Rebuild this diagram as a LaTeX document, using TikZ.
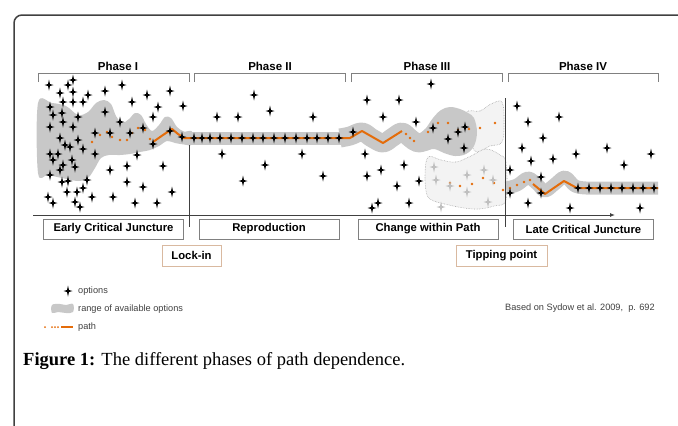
\documentclass[tikz,border=0pt]{standalone}
\usepackage{fontspec}
\setmainfont{Liberation Serif}
\setsansfont{Liberation Sans}
\usetikzlibrary{arrows.meta}
\definecolor{framegray}{RGB}{64,64,64}
\definecolor{linegray}{RGB}{128,128,128}
\definecolor{rangegray}{RGB}{200,200,200}
\definecolor{faintgray}{RGB}{243,243,243}
\definecolor{pathorange}{RGB}{228,108,10}
\definecolor{turntan}{RGB}{217,185,160}
\tikzset{
  optstar/.pic={\fill[pic actions] (0,-5.5) -- (1,-1) -- (4.5,0) -- (1,1) -- (0,5.5)
    -- (-1,1) -- (-4.5,0) -- (-1,-1) -- cycle;}
}

\begin{document}
\begin{tikzpicture}[x=1pt, y=-1pt,
    phase/.style={anchor=base, inner sep=0pt, font=\sffamily\bfseries\fontsize{11.5}{13}\selectfont},
    stage/.style={draw=linegray, line width=0.9pt, minimum width=140pt, minimum height=20pt,
        inner sep=0pt, font=\sffamily\bfseries\fontsize{11.3}{13}\selectfont},
    turn/.style={stage, draw=turntan},
    legendtext/.style={anchor=west, inner sep=0pt, text=framegray,
        font=\sffamily\fontsize{9.2}{11}\selectfont},
    bracket/.style={draw=linegray, line width=1pt},
    axisline/.style={draw=framegray, line width=0.9pt},
    rangetube/.style={draw=rangegray, line join=round},
    pathline/.style={draw=pathorange, line width=2pt, line join=round}]
    \useasboundingbox (0,0) rectangle (678,426);
    \draw[framegray, line width=1.5pt, rounded corners=8pt] (14,426) -- (14,15) -- (678,15);

    \node[phase] (ph1) at (118,70) {Phase I};
    \node[phase] (ph2) at (270,70) {Phase II};
    \node[phase] (ph3) at (427,70) {Phase III};
    \node[phase] (ph4) at (583,70) {Phase IV};
    \draw[bracket] (38,82) |- (189,73) -- (189,82);
    \draw[bracket] (194,82) |- (345,73) -- (345,82);
    \draw[bracket] (351,82) |- (502,73) -- (502,82);
    \draw[bracket] (508,82) |- (658,73) -- (658,82);

    % faint branches of phase III
    \filldraw[fill=faintgray, draw=linegray!70, densely dotted, line width=0.6pt]
        plot[smooth cycle, tension=0.6] coordinates {(466,114) (480,111) (491,104) (502,102)
        (504,122) (502,142) (490,146) (474,150)};
    \filldraw[fill=faintgray, draw=linegray!70, densely dotted, line width=0.6pt]
        plot[smooth cycle, tension=0.6] coordinates {(428,157) (441,160) (456,162) (471,156)
        (486,149) (500,155) (506,163) (506,200) (494,206) (479,209) (464,208) (449,205)
        (434,201) (427,195) (425,176)};

    % range of available options
    \fill[rangegray] plot[smooth cycle, tension=0.55] coordinates {(38,103) (52,103) (66,106)
        (78,115) (88,112) (96,103) (104,100) (111,104) (116,116) (122,123) (129,119) (135,113)
        (141,115) (146,124) (152,131) (159,125) (165,117) (171,118) (177,127) (184,131.5)
        (192,131.5) (192,144.5) (184,144.5) (175,143) (167,141) (159,146) (150,150) (140,152)
        (130,154) (120,155) (109,155) (101,158) (95,168) (88,178) (78,181) (62,178) (48,175)
        (38,173)};
    \draw[rangetube, line width=13pt] (188,138) -- (345,138);
    \draw[rangetube, line width=19pt] plot[smooth, tension=0.6] coordinates {(340,138) (350,136)
        (362,132) (372,138) (383,143) (393,137) (402,132) (410,138) (418,143) (428,140)};
    \fill[rangegray] plot[smooth cycle, tension=0.6] coordinates {(418,136) (426,128) (433,118)
        (441,110) (450,107) (460,109) (468,113) (474,118) (477,132) (474,146) (466,154)
        (455,156) (444,153) (434,149) (424,151) (417,147)};
    \draw[rangetube, line width=13pt] plot[smooth, tension=0.6] coordinates {(506,188) (517,185)
        (528,178) (537,184) (545,191) (555,184) (565,177) (575,186) (586,188)} -- (658,188);

    % path
    \foreach \x/\y in {92/142, 100/135, 107/132, 112/137, 120/140, 127/140, 132/133, 138/128,
        145/130, 150/139, 406/134, 410/138, 414/141, 428/132, 438/123, 448/123, 458/130,
        469/129, 480/128, 495/123, 450/183, 460/186, 472/184, 483/178, 494/183, 503/190,
        510/188, 517/185, 524/182, 530/180}
        \fill[pathorange] (\x,\y) circle (1.3);
    \draw[pathline] (153,142) -- (163,135) -- (172,129) -- (178,134) -- (184,138) -- (350,138)
        -- (355,135) -- (362,131) -- (383,143) -- (402,131);
    \draw[pathline] (533,184) -- (545,194) -- (564,181) -- (577,188) -- (658,188);

    % options
    \foreach \x/\y in {49/85, 68/85, 73/80, 73/92, 60/93, 63/102, 73/102, 83/102, 88/95, 105/91,
        122/85, 147/95, 170/91, 132/102, 158/107, 183/106, 50/107, 53/115, 62/113, 63/122,
        78/117, 105/112, 120/122, 153/117, 50/127, 73/127, 95/133, 110/133, 130/133, 143/128,
        60/138, 78/140, 65/145, 70/147, 50/154, 58/154, 83/149, 95/154, 137/155, 153/144,
        170/131, 182/137, 53/160, 63/165, 72/160, 75/167, 50/175, 60/170, 110/170, 127/166,
        163/166, 62/182, 68/181, 87/180, 127/182, 83/188, 143/187, 48/197, 67/192, 77/192,
        92/197, 53/203, 75/202, 80/207, 113/197, 135/203, 157/203, 172/192,
        254/95, 217/117, 238/117, 270/111, 313/117, 222/154, 265/165, 243/181, 302/154, 323/176,
        194/138, 202/138, 210/138, 220/138, 231/138, 242/138, 253/138, 263/138, 274/138,
        285/138, 296/138, 307/138, 317/138, 328/138, 339/138, 353/132,
        431/84, 367/100, 399/100, 383/117, 416/122, 433/128, 465/127, 458/132, 448/139, 464/148,
        365/154, 381/170, 367/176, 404/165, 419/181, 397/186, 378/203, 372/208, 409/203,
        517/106, 528/122, 559/117, 543/138, 522/148, 531/161, 553/159, 576/154, 607/148,
        651/154, 624/165, 510/170, 541/177, 510/193, 541/193, 528/203, 570/208, 640/208,
        578/188, 589/188, 600/188, 611/188, 622/188, 633/188, 643/188, 654/188}
        \pic at (\x,\y) {optstar};
    \foreach \x/\y in {434/167, 436/180, 450/186, 467/175, 467/192, 484/170, 488/202, 441/207,
        493/180}
        \pic[fill=black!25] at (\x,\y) {optstar};

    \coordinate (axisstart) at (33,215);
    \coordinate (axisend) at (615,215);
    \draw[axisline, -{Latex[length=5pt, width=4pt]}] (axisstart) -- (axisend);
    \draw[axisline] (189,145) -- (189,227);
    \draw[axisline] (505,98) -- (505,227);

    \node[stage] (st1) at (113.5,229) {Early Critical Juncture};
    \node[stage] (st2) at (269,229) {Reproduction};
    \node[stage] (st3) at (428,229) {Change within Path};
    \node[stage] (st4) at (583.5,229) {Late Critical Juncture};
    \node[turn, minimum width=59pt, minimum height=21pt] (lockin) at (191.5,255.5) {Lock-in};
    \node[turn, minimum width=91pt, minimum height=21pt] (tipping) at (501.5,255.5) {Tipping point};

    % legend
    \pic at (68,291) {optstar};
    \node[legendtext] (leg1) at (78,291) {options};
    \fill[rangegray] plot[smooth cycle, tension=0.6] coordinates {(52,305) (60,304) (66,305)
        (73,304) (73,312) (66,313) (58,312) (52,313)};
    \node[legendtext] (leg2) at (78,309) {range of available options};
    \foreach \x in {45, 52, 55, 58}
        \fill[pathorange] (\x,327) circle (1);
    \draw[pathline, line width=1.6pt] (61,327) -- (73,327);
    \node[legendtext] (leg3) at (78,327) {path};
    \node[legendtext, anchor=base west] (source) at (505,310) {Based on Sydow et al. 2009,\ \ p. 692};

    \node[anchor=base west, inner sep=0pt, font=\fontsize{18.5}{22}\selectfont] (caption) at (23,365)
        {\textbf{Figure 1:} The different phases of path dependence.};
\end{tikzpicture}
\end{document}
